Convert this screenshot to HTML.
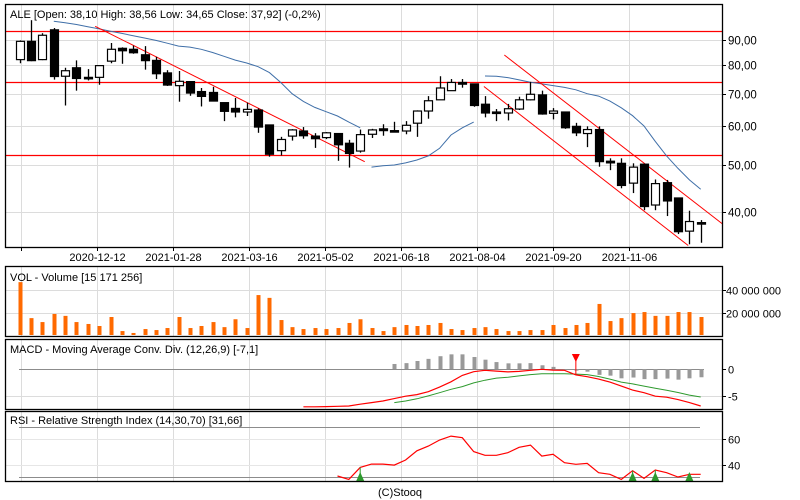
<!DOCTYPE html>
<html><head><meta charset="utf-8"><style>
html,body{margin:0;padding:0;background:#fff;}
svg{display:block;font-family:"Liberation Sans",Arial,sans-serif;}
</style></head><body>
<svg id="chart" width="800" height="500" viewBox="0 0 800 500" xmlns="http://www.w3.org/2000/svg">
<rect x="0" y="0" width="800" height="500" fill="#fff"/>
<g id="grid"></g>
<g id="main"></g>
<g id="vol"></g>
<g id="macd"></g>
<g id="rsi"></g>
<g id="frames"></g>
<text x="10" y="18" font-size="11" fill="#000">ALE [Open: 38,10  High: 38,56  Low: 34,65  Close: 37,92] (-0,2%)</text>
<text x="10" y="281" font-size="11" fill="#000">VOL - Volume [15 171 256]</text>
<text x="10" y="353" font-size="11" fill="#000">MACD - Moving Average Conv. Div. (12,26,9) [-7,1]</text>
<text x="10" y="424" font-size="11" fill="#000">RSI - Relative Strength Index (14,30,70) [31,66]</text>
<text x="400" y="496" font-size="11" text-anchor="middle" fill="#000">(C)Stooq</text>
</svg>
<script>
const opens=[82.2,89.6,82.2,94.6,76.0,79.1,75.6,75.6,81.6,86.7,86.3,84.1,81.9,77.2,72.7,74.1,70.7,70.4,67.1,65.3,64.2,64.8,60.4,53.5,57.3,58.7,57.3,56.9,58.0,55.4,53.4,57.8,59.3,58.8,58.7,60.9,64.5,68.0,71.0,73.8,73.3,66.6,64.2,63.9,65.1,68.0,69.6,63.8,64.2,60.0,58.0,59.1,50.9,50.4,45.9,50.2,41.4,46.0,42.8,36.6,38.10];
const highs=[90,99,93.1,95.4,79.1,81.9,78.6,79.9,88.9,87.1,87.8,87.6,83.3,78.2,77.9,74.1,71.9,72.3,67.1,68.6,67.1,65.3,60.4,57.1,59.2,59.8,58.1,58.4,58.0,56.3,59.1,59.3,60.6,61.3,61.5,64.7,69.2,76.0,75.0,75.0,73.3,69.2,65.1,66.7,69.0,74.0,71.0,65.4,64.2,61.0,60.0,60.0,51.6,51.6,50.4,50.3,46.7,46.6,42.8,40.3,38.56];
const lows=[80.8,81.6,82.0,74.8,66.2,71.0,74.5,73.0,80.8,80.6,84.5,78.4,75.0,72.6,67.4,69.3,65.9,67.6,61.5,62.6,63.0,58.2,52.0,52.3,56.1,56.6,54.2,56.5,51.0,49.4,53.0,56.8,57.4,58.5,57.8,57.1,62.2,68.0,71.0,72.0,65.8,62.6,61.5,61.7,64.8,67.8,63.4,62.0,59.3,57.3,54.4,49.6,48.8,44.8,43.8,40.4,40.4,39.3,36.1,34.4,34.65];
const closes=[89.6,81.8,92.2,75.9,78.0,75.2,75.1,79.9,86.3,85.7,84.9,81.8,76.9,72.9,74.2,70.2,69.1,67.6,64.4,64.2,65.0,59.8,52.6,56.4,59.0,57.4,56.6,58.2,55.0,52.8,57.7,59.0,58.8,58.6,60.3,64.5,67.7,71.9,73.8,73.2,66.2,63.9,64.0,65.2,68.0,69.8,63.6,64.5,59.6,58.2,59.1,50.8,50.5,45.4,49.5,41.1,45.8,42.2,36.5,38.3,37.92];
const volumesM=[47,15,11.5,18.7,17,11.5,9.8,8,16,3.5,1.8,5.3,4.4,6.2,16,6.2,8,11.5,7,14,6.2,35.5,33,13.3,7,5.3,6.2,5.3,6.2,10.7,14,6.2,3.5,7,8.9,8,8.9,10.7,5.3,4.4,6.2,7,5.3,3.5,3.5,4.4,4.4,8.9,6.2,8.9,10.7,27.6,12.4,15,19.5,20.4,17,17,20.4,20.4,16];
const maSeg1Start=3;
const maSeg1=[98.5,97.8,97,96,95,94,93,92,91,90,88.8,87.6,87.2,86.3,85,83.5,82,80.9,79.5,77.3,73.8,70,67.5,65.6,64.3,63,61.2,59.6];
const maSeg2Start=31;
const maSeg2=[49.5,49.8,50.0,50.5,51.2,52.2,54.1,57.6,59.6,61.2];
const maSeg3Start=41;
const maSeg3=[76.1,76,75.5,74.7,73.9,73.3,72.7,72.1,71.3,70.0,69.2,67.6,65.5,63.1,60.1,55.9,52.2,49.2,46.6,44.6];
const levelLines=[94.1,74.0,52.5];
const trendLines=[[6.65,96.2,30.4,50.8],[40.9,72.4,58.9,34.2],[42.7,84,61.9,37.9]];
const priceTicks=[90,80,70,60,50,40];
const priceTickLabels=["90,00","80,00","70,00","60,00","50,00","40,00"];
const dateGridIdx=[0.12,6.81,13.51,20.2,26.9,33.6,40.3,47.0,53.7];
const dateLabels=["","2020-12-12","2021-01-28","2021-03-16","2021-05-02","2021-06-18","2021-08-04","2021-09-20","2021-11-06"];
const volTicks=[40,20];
const volTickLabels=["40 000 000","20 000 000"];
const macdStart=25;
const macdVals=[-7.1,-7.1,-7.05,-7.0,-6.95,-6.6,-6.3,-6.0,-5.55,-5.1,-4.8,-4.25,-3.4,-2.4,-1.2,-0.5,-0.25,-0.4,-0.55,-0.45,-0.25,-0.05,-0.2,-0.25,-1.1,-1.45,-1.9,-2.45,-3.2,-3.95,-4.45,-5.1,-5.3,-5.75,-6.3,-6.95];
const signalStart=33;
const signalVals=[-6.3,-6.0,-5.6,-5.05,-4.45,-3.8,-3.3,-2.6,-2.1,-1.7,-1.55,-1.3,-1.05,-0.9,-0.9,-0.9,-0.95,-1.05,-1.4,-1.9,-2.45,-2.8,-3.2,-3.6,-4.0,-4.4,-4.9,-5.25];
const histStart=33;
const histVals=[0.94,1.1,1.5,1.9,2.4,2.75,2.75,2.25,1.75,1.3,1.06,1.06,1.1,0.7,0.4,-0.1,-0.3,-0.5,-1.1,-1.25,-1.75,-1.6,-1.9,-1.9,-1.8,-2.0,-1.75,-1.55];
const macdSellIdx=[49];
const macdTicks=[0,-5];
const macdTickLabels=["0","-5"];
const rsiStart=28;
const rsiVals=[31.1,28.4,37.9,40.5,40.5,39.7,43.7,51,54.7,59.5,62.6,61.3,50.3,47.4,47.4,49.5,53.7,55.5,46.8,48.2,41.6,40.3,41,33.7,32.4,28.4,35.3,29.2,35.8,33.7,30.3,32.4,32.4];
const rsiBuyIdx=[30,54,56,59];
const rsiTicks=[60,40];
const rsiTickLabels=["60","40"];
const rsiLevels=[70,30];

const NS="http://www.w3.org/2000/svg";
const L=5,R=722;
const xOf=i=>19.7+11.35*i;
const yP=p=>165-212*Math.log(p/50);
const yV=v=>335-v*1.125;
const yM=v=>369-5.33*v;
const yR=v=>464.7-(v-40)*1.267;
function mk(parent,tag,attrs){const e=document.createElementNS(NS,tag);for(const k in attrs)e.setAttribute(k,attrs[k]);document.getElementById(parent).appendChild(e);return e;}

const panels=[[4,247],[266,336],[339,409],[411,481]];
dateGridIdx.forEach((g,k)=>{const x=Math.round(xOf(g))+0.5;
  panels.forEach(p=>{const l=mk('grid','line',{x1:x,x2:x,y1:p[0],y2:p[1],stroke:'#dcdcdc','stroke-width':1});
    
    });
  const t=mk('grid','line',{x1:x,x2:x,y1:247,y2:251,stroke:'#000'});
  
  
  if(dateLabels[k]){const tx=mk('grid','text',{x:x,y:261,'font-size':11,'text-anchor':'middle',fill:'#000'});tx.textContent=dateLabels[k];
    
    }
});
priceTicks.forEach((p,k)=>{const y=Math.round(yP(p))+0.5;
  const l=mk('grid','line',{x1:L,x2:R,y1:y,y2:y,stroke:'#dcdcdc'});
  
  
  mk('grid','line',{x1:R,x2:R+4,y1:y,y2:y,stroke:'#000'});
  const t=mk('grid','text',{x:728,y:y+4,'font-size':11.5,fill:'#000'});t.textContent=priceTickLabels[k];
  
  });
volTicks.forEach((v,k)=>{const y=Math.round(yV(v))+0.5;
  const l=mk('grid','line',{x1:L,x2:R,y1:y,y2:y,stroke:'#dcdcdc'});
  
  
  mk('grid','line',{x1:R,x2:R+4,y1:y,y2:y,stroke:'#000'});
  const t=mk('grid','text',{x:726,y:y+4,'font-size':11,fill:'#000'});t.textContent=volTickLabels[k];
  
  });
macdTicks.forEach((v,k)=>{const y=Math.round(yM(v))+0.5;
  const l=mk('grid','line',{x1:v===0?19:L,x2:v===0?704:R,y1:y,y2:y,stroke:v===0?'#8c8c8c':'#dcdcdc'});
  
  
  mk('grid','line',{x1:R,x2:R+4,y1:y,y2:y,stroke:'#000'});
  const t=mk('grid','text',{x:728,y:y+4,'font-size':11,fill:'#000'});t.textContent=macdTickLabels[k];
  
  });
rsiTicks.forEach((v,k)=>{const y=Math.round(yR(v))+0.5;
  const l=mk('grid','line',{x1:L,x2:R,y1:y,y2:y,stroke:'#e6e6e6'});
  
  
  mk('grid','line',{x1:R,x2:R+4,y1:y,y2:y,stroke:'#000'});
  const t=mk('grid','text',{x:728,y:y+4,'font-size':11,fill:'#000'});t.textContent=rsiTickLabels[k];
  
  });
rsiLevels.forEach(v=>{const y=Math.round(yR(v))+0.5;
  const l=mk('grid','line',{x1:19,x2:700,y1:y,y2:y,stroke:'#8c8c8c'});
  
  });

levelLines.forEach(p=>{const y=Math.round(yP(p))+0.5;
  const l=mk('main','line',{x1:L,x2:R,y1:y,y2:y,stroke:'#f00','stroke-width':1.3});
  
  });
[[maSeg1Start,maSeg1],[maSeg2Start,maSeg2],[maSeg3Start,maSeg3]].forEach(s=>{
  const pts=s[1].map((v,j)=>xOf(s[0]+j).toFixed(1)+','+yP(v).toFixed(1)).join(' ');
  const pl=mk('main','polyline',{points:pts,fill:'none',stroke:'#3f6fa8','stroke-width':1});
  
  });
trendLines.forEach(t=>{const l=mk('main','line',{x1:xOf(t[0]),y1:yP(t[1]),x2:xOf(t[2]),y2:yP(t[3]),stroke:'#f00','stroke-width':1});
  
  });
opens.forEach((o,i)=>{const x=Math.round(xOf(i));const c=closes[i];
  const w=mk('main','line',{x1:x+0.5,x2:x+0.5,y1:yP(highs[i]),y2:yP(lows[i]),stroke:'#000','stroke-width':1.3});
  
  
  const top=yP(Math.max(o,c)),bot=yP(Math.min(o,c));
  const up=c>=o;
  const b=mk('main','rect',{x:x-3.5,y:top,width:8,height:Math.max(1.5,bot-top),fill:up?'#fff':'#000',stroke:'#000','stroke-width':1.2});
  
  });

volumesM.forEach((v,i)=>{const x=Math.round(xOf(i))-1.5;
  const r=mk('vol','rect',{x:x,y:yV(v),width:4,height:335-yV(v),fill:'#ff6a00'});
  
  });

histVals.forEach((v,j)=>{const i=histStart+j;const x=Math.round(xOf(i))-1.5;const y0=yM(0),y1=yM(v);
  const r=mk('macd','rect',{x:x,y:Math.min(y0,y1),width:4,height:Math.max(0.5,Math.abs(y1-y0)),fill:'#999'});
  
  });
{const pl=mk('macd','polyline',{points:signalVals.map((v,j)=>xOf(signalStart+j).toFixed(1)+','+yM(v).toFixed(1)).join(' '),fill:'none',stroke:'#2e9a2e','stroke-width':1});
 
 }
{const pl=mk('macd','polyline',{points:macdVals.map((v,j)=>xOf(macdStart+j).toFixed(1)+','+yM(v).toFixed(1)).join(' '),fill:'none',stroke:'#f00','stroke-width':1.2});
 
 }
macdSellIdx.forEach(i=>{const x=xOf(i);const y=yM(macdVals[i-macdStart]);
  mk('macd','line',{x1:x,x2:x,y1:356,y2:y,stroke:'#f00'});
  const p=mk('macd','polygon',{points:`${x-4},354 ${x+4},354 ${x},362`,fill:'#f00'});
  
  });

{const pl=mk('rsi','polyline',{points:rsiVals.map((v,j)=>xOf(rsiStart+j).toFixed(1)+','+yR(v).toFixed(1)).join(' '),fill:'none',stroke:'#f00','stroke-width':1.2});
 
 }
rsiBuyIdx.forEach(i=>{const x=xOf(i);const y=yR(rsiVals[i-rsiStart]);
  mk('rsi','line',{x1:x,x2:x,y1:y,y2:478,stroke:'#2e9a2e'});
  const p=mk('rsi','polygon',{points:`${x-4},481 ${x+4},481 ${x},472`,fill:'#2e9a2e'});
  
  });

panels.forEach((p,k)=>{const r=mk('frames','rect',{x:L+0.5,y:p[0]+0.5,width:R-L,height:p[1]-p[0],fill:'none',stroke:'#000','stroke-width':1.3});
  
  });
</script>
</body></html>
